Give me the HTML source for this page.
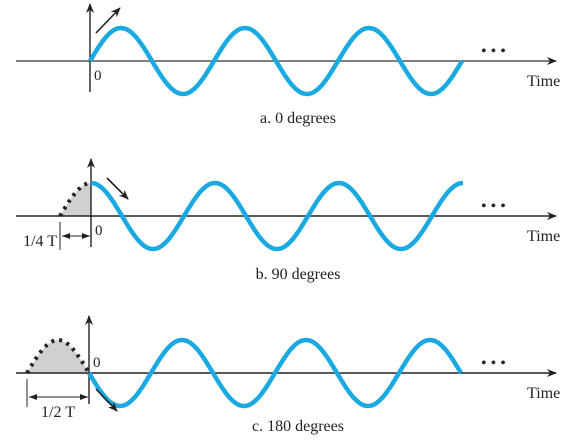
<!DOCTYPE html>
<html><head><meta charset="utf-8"><style>
body{margin:0;background:#fff}
svg text{font-family:"Liberation Serif",serif;fill:#222}
</style></head><body>
<svg width="573" height="438" viewBox="0 0 573 438">
<defs><marker id="ah" markerWidth="10" markerHeight="8" refX="9" refY="4" orient="auto" markerUnits="userSpaceOnUse"><path d="M0,0 L10,4 L0,8 L3,4z" fill="#222"/></marker>
<marker id="ah2" markerWidth="8" markerHeight="6" refX="8" refY="3" orient="auto-start-reverse" markerUnits="userSpaceOnUse"><path d="M0,0 L8,3 L0,6z" fill="#222"/></marker></defs>
<g id="root"></g>
</svg>
<script>
const captions=["a. 0 degrees","b. 90 degrees","c. 180 degrees"];
const phasesDeg=[0,90,180];
const axisY=[61,216,373];
const originX=[90,91,89];
const cycles=3;
const period=124;
const amp=33;
const ns="http://www.w3.org/2000/svg";
const root=document.getElementById('root');
function mk(t,a,p){const e=document.createElementNS(ns,t);for(const k in a)e.setAttribute(k,a[k]);(p||root).appendChild(e);return e;}
phasesDeg.forEach((ph,i)=>{
 const g=mk('g',{});
 
 
 const y0=axisY[i],x0=originX[i],phr=ph*Math.PI/180;
 const sx=t=>x0+t*period, sy=v=>y0-amp*v;
 const f=t=>Math.sin(2*Math.PI*t+phr);
 if(ph>0){
  const lead=ph/360;let d='M'+sx(-lead)+','+y0;let dd='';
  for(let k=0;k<=40;k++){const t=-lead+lead*k/40;d+=' L'+sx(t).toFixed(1)+','+sy(f(t)).toFixed(1);dd+=(k?' L':'M')+sx(t).toFixed(1)+','+sy(f(t)).toFixed(1);}
  d+=' L'+x0+','+y0+'Z';
  const s=mk('path',{d:d,fill:'#d0d0d0'},g);
  const dt=mk('path',{d:dd,fill:'none',stroke:'#222','stroke-width':4,'stroke-dasharray':'3 5'},g);
  const xl=sx(-lead);
  mk('line',{x1:xl,y1:y0+6,x2:xl,y2:y0+34,stroke:'#222','stroke-width':1},g);
  const dy=ph==90?y0+20:y0+24;
  const ar=mk('line',{x1:xl+2,y1:dy,x2:x0-1,y2:dy,stroke:'#222','stroke-width':1,'marker-start':'url(#ah2)','marker-end':'url(#ah2)'},g);
  
  const lab=mk('text',ph==90?{x:xl-3,y:y0+30,'font-size':16,'text-anchor':'end'}:{x:(xl+x0)/2,y:y0+44,'font-size':16,'text-anchor':'middle'},g);
  lab.textContent=ph==90?'1/4 T':'1/2 T';
 }
 const xa=mk('line',{x1:16,y1:y0,x2:556,y2:y0,stroke:i==0?'#555':'#222','stroke-width':1.4,'marker-end':'url(#ah)'},g);
 
 const ya=mk('line',{x1:x0,y1:y0+31,x2:x0,y2:y0-57,stroke:'#222','stroke-width':1.4,'marker-end':'url(#ah)'},g);
 
 let d='';const N=300;
 for(let k=0;k<=N;k++){const t=cycles*k/N;d+=(k?' L':'M')+sx(t).toFixed(1)+','+sy(f(t)).toFixed(1);}
 const w=mk('path',{d:d,fill:'none',stroke:'#1ba9e1','stroke-width':4.5,'stroke-linecap':'butt'},g);
 
 const z=mk('text',{x:x0+4,y:ph==180?y0-6:y0+19,'font-size':15},g);z.textContent='0';
 
 const dir=[[96,y0-28,120,y0-53],[107,y0-38,128,y0-17],[96,y0+16,117,y0+38]][i];
 const da=mk('line',{x1:dir[0],y1:dir[1],x2:dir[2],y2:dir[3],stroke:'#222','stroke-width':1.6,'marker-end':'url(#ah)'},g);
 
 const el=mk('text',{x:481,y:y0-5,'font-size':16},g);el.textContent='• • •';
 
 const tl=mk('text',{x:527,y:y0+25,'font-size':16},g);tl.textContent='Time';
 
 const cp=mk('text',{x:298,y:[123,279,431][i],'font-size':16,'text-anchor':'middle'},g);cp.textContent=captions[i];
 
});
</script>
</body></html>
